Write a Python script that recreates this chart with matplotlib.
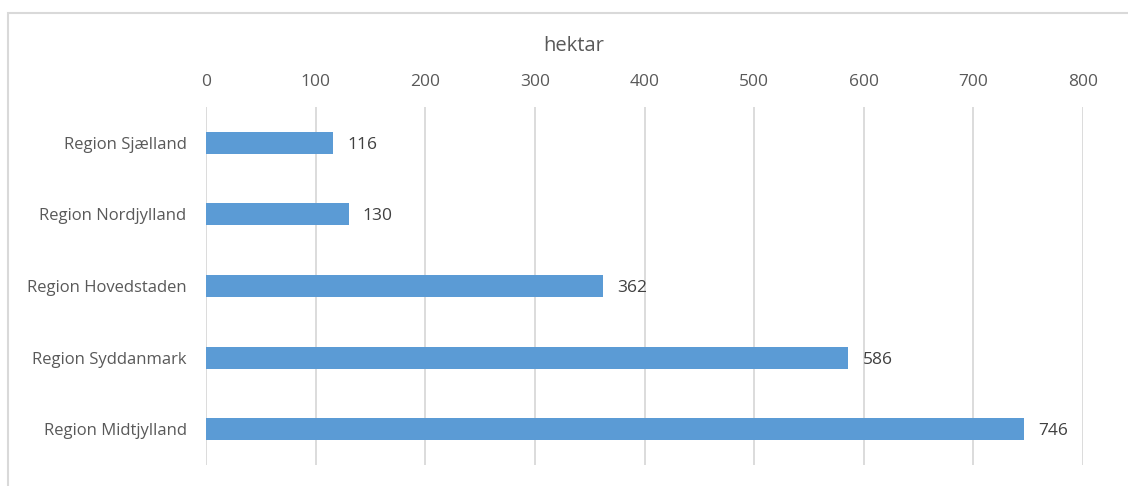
import matplotlib
matplotlib.use("Agg")
import matplotlib.pyplot as plt
from matplotlib.patches import Rectangle

regions = ["Region Sjælland", "Region Nordjylland", "Region Hovedstaden",
           "Region Syddanmark", "Region Midtjylland"]
values = [116, 130, 362, 586, 746]
xticks = [0, 100, 200, 300, 400, 500, 600, 700, 800]
axis_label = "hektar"

plt.rcParams['font.family'] = ['Open Sans', 'DejaVu Sans']
txt = '#595959'
grid = '#D9D9D9'
bar_color = '#5B9BD5'

fig = plt.figure(figsize=(11.28, 4.86), dpi=100)
# outer frame
fig.patches.append(Rectangle((8/1128, -0.1), 1.2, 1 - 13/486 + 0.1,
                             transform=fig.transFigure, fill=False,
                             edgecolor='#D9D9D9', linewidth=1.5))
ax = fig.add_axes([206/1128, 1 - 465/486, (1083 - 206)/1128, (465 - 107)/486])

y = list(range(len(regions)))
ax.barh(y, values, height=0.31, color=bar_color)
ax.set_ylim(-0.5, len(regions) - 0.5)
ax.invert_yaxis()
ax.set_xlim(0, 800)
ax.set_xticks(xticks)
ax.set_yticks(y)
ax.set_yticklabels(regions, fontsize=12, color=txt)
ax.xaxis.tick_top()
ax.tick_params(axis='x', length=0, pad=12, labelsize=12.5, labelcolor=txt)
ax.tick_params(axis='y', length=0, pad=14)
ax.grid(axis='x', color=grid, linewidth=1.3)
ax.set_axisbelow(True)
for s in ax.spines.values():
    s.set_visible(False)

fig.text(574/1128, 1 - 46/486, axis_label, ha='center', va='center',
         fontsize=14.5, color=txt)

for yi, v in zip(y, values):
    ax.text(v + 13, yi, str(v), va='center_baseline', ha='left', fontsize=12.5, color='#404040')

fig.savefig("out.png", dpi=100)
